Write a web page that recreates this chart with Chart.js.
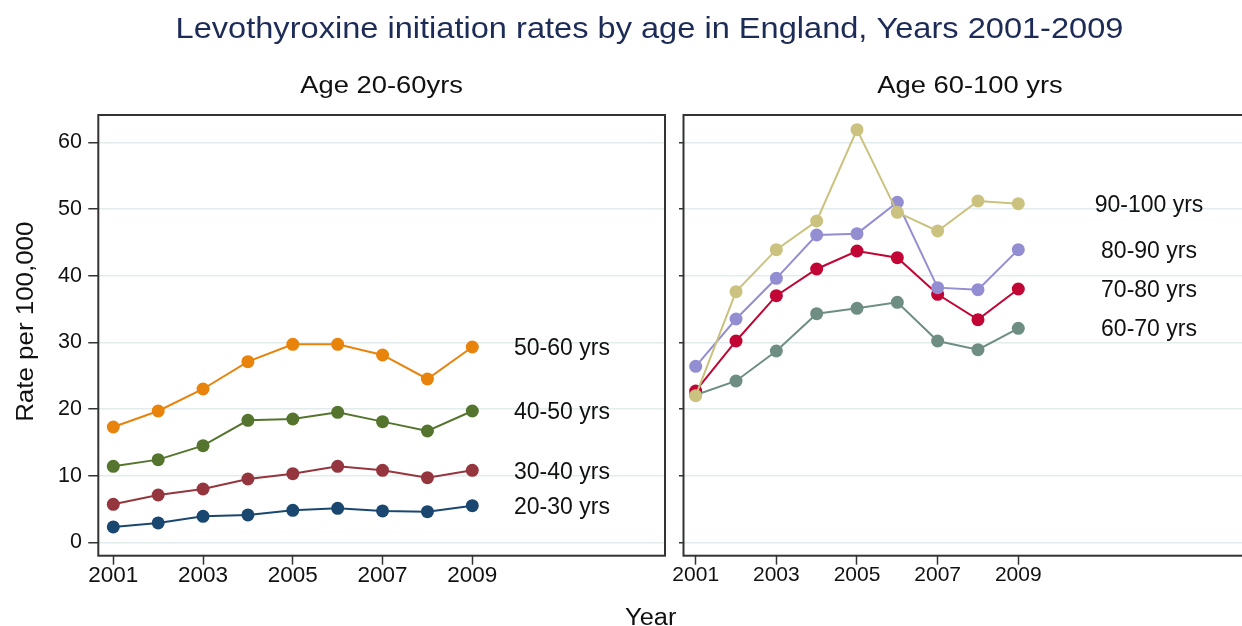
<!DOCTYPE html>
<html>
<head>
<meta charset="utf-8">
<script src="https://cdn.jsdelivr.net/npm/chart.js@4.4.1/dist/chart.umd.min.js"></script>
<style>
  html, body { margin: 0; padding: 0; background: #ffffff; overflow: hidden; width: 1242px; height: 626px; }
  canvas { position: absolute; left: 0; top: 0; }
</style>
</head>
<body>
<canvas id="panelYoung" width="1270" height="626"></canvas>
<canvas id="panelOld" width="1270" height="626"></canvas>
<script>
// ---- data: levothyroxine initiation rate per 100,000, by age band ----
const years = [2001, 2002, 2003, 2004, 2005, 2006, 2007, 2008, 2009];
const yearTicks = [2001, 2003, 2005, 2007, 2009];
const rateTicks = [0, 10, 20, 30, 40, 50, 60];

const rate20to30 = [2.3, 2.9, 3.9, 4.1, 4.8, 5.1, 4.7, 4.6, 5.5];
const rate30to40 = [5.7, 7.1, 8.0, 9.5, 10.3, 11.4, 10.8, 9.7, 10.8];
const rate40to50 = [11.4, 12.4, 14.5, 18.3, 18.5, 19.5, 18.1, 16.7, 19.7];
const rate50to60 = [17.3, 19.7, 23.0, 27.1, 29.7, 29.7, 28.1, 24.5, 29.3];

const rate60to70 = [22.1, 24.2, 28.7, 34.3, 35.1, 36.0, 30.2, 28.9, 32.1];
const rate70to80 = [22.7, 30.2, 37.0, 41.0, 43.7, 42.7, 37.2, 33.4, 38.0];
const rate80to90 = [26.4, 33.5, 39.6, 46.1, 46.3, 51.0, 38.2, 37.9, 43.9];
const rate90to100 = [22.0, 37.6, 43.9, 48.2, 61.9, 49.5, 46.7, 51.2, 50.8];

const mainTitle = 'Levothyroxine initiation rates by age in England, Years 2001-2009';
const youngTitle = 'Age 20-60yrs';
const oldTitle = 'Age 60-100 yrs';
const yTitle = 'Rate per 100,000';
const xTitle = 'Year';

const FONT = '"Liberation Sans", Arial, Helvetica, sans-serif';
const INK = '#111111';
const FRAME = '#333333';
const GRID = '#e2ecec';

function points(values) {
  return values.map((v, i) => ({ x: years[i], y: v }));
}

function series(label, values, color) {
  return {
    label: label,
    data: points(values),
    borderColor: color,
    backgroundColor: color,
    borderWidth: 2,
    pointRadius: 6.5,
    pointBorderWidth: 0,
    pointBackgroundColor: color,
    tension: 0
  };
}

// text drawn with an optional horizontal stretch (sx) along its own direction
function drawText(ctx, text, x, y, size, opts) {
  const o = Object.assign({ sx: 1, align: 'center', baseline: 'alphabetic', color: INK, rot: 0 }, opts || {});
  ctx.save();
  ctx.translate(x, y);
  if (o.rot) ctx.rotate(o.rot);
  ctx.scale(o.sx, 1);
  ctx.font = size + 'px ' + FONT;
  ctx.fillStyle = o.color;
  ctx.textAlign = o.align;
  ctx.textBaseline = o.baseline;
  ctx.fillText(text, 0, 0);
  ctx.restore();
}

// plot-region outline plus the panel's own headings and end-of-line labels
const panelDecor = {
  id: 'panelDecor',
  afterDatasetsDraw(chart, args, opts) {
    const ctx = chart.ctx;
    const a = chart.chartArea;
    ctx.save();
    ctx.strokeStyle = FRAME;
    ctx.lineWidth = 2;
    ctx.strokeRect(a.left, a.top, a.right - a.left, a.bottom - a.top);
    ctx.restore();

    const cx = (a.left + a.right) / 2;
    drawText(ctx, opts.heading, cx, 93.3, 24, { sx: 1.14 });

    const xs = chart.scales.x, ys = chart.scales.y;
    const last = years.length - 1;
    chart.data.datasets.forEach(ds => {
      const px = xs.getPixelForValue(years[last]) + opts.labelDx;
      const py = ys.getPixelForValue(ds.data[last].y) + opts.labelDy;
      drawText(ctx, ds.label, px, py, 23, { align: opts.labelAlign, baseline: 'middle' });
    });

    if (opts.shared) {
      drawText(ctx, mainTitle, 649.5, 37.5, 30, { sx: 1.086, color: '#1d2b57' });
      drawText(ctx, yTitle, 32.5, 321.7, 24, { sx: 1.08, rot: -Math.PI / 2 });
      drawText(ctx, xTitle, 650.7, 624.5, 23.5, { sx: 1.08 });
    }
  }
};

function scales(cfg) {
  return {
    x: {
      type: 'linear',
      min: cfg.xMin,
      max: cfg.xMax,
      afterBuildTicks: s => { s.ticks = yearTicks.map(v => ({ value: v })); },
      afterFit: s => { s.height = 626 - 555.7; },
      border: { display: false },
      grid: { display: true, drawOnChartArea: false, drawTicks: true, tickLength: 9, tickColor: FRAME, tickWidth: 1.5 },
      ticks: {
        autoSkip: false, maxRotation: 0, padding: 0,
        color: INK,
        font: { family: FONT, size: cfg.xTickSize, lineHeight: 1 },
        callback: v => String(v)
      }
    },
    y: {
      type: 'linear',
      min: -2.01,
      max: 64.1,
      afterBuildTicks: s => { s.ticks = rateTicks.map(v => ({ value: v })); },
      afterFit: s => { s.width = cfg.yWidth; },
      border: { display: false },
      grid: { display: true, drawOnChartArea: true, color: GRID, lineWidth: 1.5, drawTicks: true, tickLength: cfg.yTickLen, tickColor: FRAME, tickWidth: 1.5 },
      ticks: {
        display: cfg.yLabels,
        padding: 6.3,
        color: INK,
        font: { family: FONT, size: 21.5, lineHeight: 1 }
      }
    }
  };
}

function baseOptions(cfg, decor) {
  return {
    responsive: false,
    animation: false,
    devicePixelRatio: 1,
    layout: { padding: { left: 0, top: 115, right: cfg.padRight, bottom: 0 } },
    scales: scales(cfg),
    plugins: {
      legend: { display: false },
      tooltip: { enabled: false },
      panelDecor: decor
    }
  };
}

// ages 20-60
new Chart(document.getElementById('panelYoung'), {
  type: 'line',
  data: {
    datasets: [
      series('50-60 yrs', rate50to60, '#e8830c'),
      series('40-50 yrs', rate40to50, '#55752f'),
      series('30-40 yrs', rate30to40, '#95363e'),
      series('20-30 yrs', rate20to30, '#1a476f')
    ]
  },
  options: baseOptions(
    { xMin: 2000.666, xMax: 2013.294, yWidth: 98.3, yTickLen: 10, yLabels: true, xTickSize: 22.5, padRight: 1270 - 665 },
    { heading: youngTitle, labelDx: 41.7, labelDy: 2, labelAlign: 'left', shared: true }
  ),
  plugins: [panelDecor]
});

// ages 60-100 (first dataset is painted on top)
new Chart(document.getElementById('panelOld'), {
  type: 'line',
  data: {
    datasets: [
      series('90-100 yrs', rate90to100, '#cac27e'),
      series('80-90 yrs', rate80to90, '#938dd2'),
      series('70-80 yrs', rate70to80, '#c10534'),
      series('60-70 yrs', rate60to70, '#6e8e84')
    ]
  },
  options: baseOptions(
    { xMin: 2000.6975, xMax: 2014.907, yWidth: 683.5, yTickLen: 4.5, yLabels: false, xTickSize: 21, padRight: 1270 - 1256.5 },
    { heading: oldTitle, labelDx: 130.7, labelDy: 1.5, labelAlign: 'center', shared: false }
  ),
  plugins: [panelDecor]
});
</script>
</body>
</html>
